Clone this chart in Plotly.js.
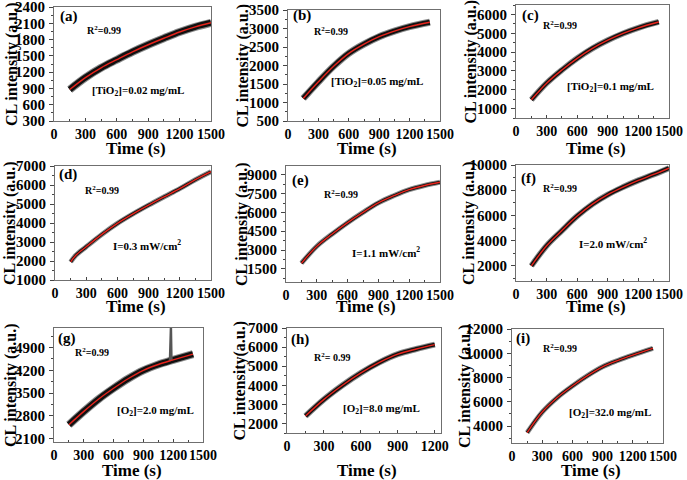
<!DOCTYPE html>
<html><head><meta charset="utf-8">
<script src="https://cdn.plot.ly/plotly-3.0.1.min.js"></script>
<style>html,body{margin:0;padding:0;background:#fff}#c{width:687px;height:480px}</style>
</head><body><div id="c"></div>
<script>
// ---- data ----
const panelLetters = ["(a)","(b)","(c)","(d)","(e)","(f)","(g)","(h)","(i)"];
const r2Labels = ["R<sup>2</sup>=0.99","R<sup>2</sup>=0.99","R<sup>2</sup>=0.99","R<sup>2</sup>=0.99","R<sup>2</sup>=0.99","R<sup>2</sup>=0.99","R<sup>2</sup>=0.99","R<sup>2</sup>= 0.99","R<sup>2</sup>=0.99"];
const conditionLabels = ["[TiO<sub>2</sub>]=0.02 mg/mL","[TiO<sub>2</sub>]=0.05 mg/mL","[TiO<sub>2</sub>]=0.1 mg/mL","I=0.3 mW/cm<sup>2</sup>","I=1.1 mW/cm<sup>2</sup>","I=2.0 mW/cm<sup>2</sup>","[O<sub>2</sub>]=2.0 mg/mL","[O<sub>2</sub>]=8.0 mg/mL","[O<sub>2</sub>]=32.0 mg/mL"];
const xTitle = "Time (s)";
const yTitles = ["CL intensity (a.u.)","CL intensity (a.u.)","CL intensity (a.u.)","CL intensity (a.u.)","CL intensity (a.u.)","CL intensity (a.u.)","CL intensity (a.u.)","CL intensity(a.u.)","CL intensity (a.u.)"];

const timeA = [150,300,450,600,750,900,1050,1200,1350,1500];
const clA   = [880,1100,1280,1430,1575,1705,1825,1940,2035,2110];
const timeB = [150,300,450,600,750,900,1050,1200,1400];
const clB   = [1110,1560,1980,2330,2580,2780,2930,3050,3170];
const timeC = [150,300,450,600,750,900,1050,1200,1400];
const clC   = [1470,2350,3050,3670,4200,4630,4990,5290,5600];
const timeD = [150,200,300,450,600,750,900,1050,1200,1350,1500];
const clD   = [1950,2300,2750,3400,3980,4480,4940,5380,5810,6280,6700];
const timeE = [150,300,450,600,750,900,1050,1200,1350,1500];
const clE   = [1950,3300,4280,5180,6000,6760,7330,7820,8150,8400];
const timeF = [150,300,450,600,750,900,1050,1200,1350,1500];
const clF   = [2000,3600,4800,5950,6900,7650,8250,8780,9250,9750];
const timeG = [150,300,450,600,750,900,1050,1200,1400];
const clG   = [2530,2940,3320,3650,3950,4200,4380,4520,4700];
const spikeTimeG = [1165,1172,1178,1185];
const spikeClG   = [4480,5800,5800,4500];
const timeH = [150,300,450,600,750,900,1050,1200];
const clH   = [2390,3260,4000,4650,5200,5630,5900,6130];
const timeI = [150,300,450,600,750,900,1050,1200,1400];
const clI   = [3450,5150,6350,7300,8150,8880,9400,9850,10400];

const xRanges = [[0,1500],[0,1500],[0,1500],[0,1500],[0,1500],[0,1500],[0,1500],[0,1250],[0,1500]];
const yRanges = [[300,2400],[500,3500],[500,6500],[1000,7000],[450,9700],[800,10000],[2000,5500],[1500,7000],[2600,12000]];
const yDticks = [300,500,1000,1000,1500,2000,700,1000,2000];

// ---- layout geometry (pixels) ----
const W = 687, H = 480;
const boxes = [ // [left, right, top, bottom]
  [54,211,7,121],[288,440,10,121],[516,669,5,118],
  [55,211,166,280],[286,440,166,282],[516,669,165,281],
  [54,203,328,442],[287,441,328,433],[512,663,329,443]
];
const letterPos = [[58,17],[291,16],[520,15],[57,174],[290,180],[519,178],[56,338],[289,339],[514,338]];
const r2Pos = [[85,30],[312,31],[541,25],[83,190],[322,194],[541,188],[73,352],[312,357],[541,348]];
const condPos = [[138,91],[377,82],[610,87],[147,245],[386,252],[613,243],[155,411],[381,409],[610,413]];
const yTitleX = [12,242,470,10,242,469,11,239,465];
const xTitleY = [148,306,470];
const bandWidths = [6,5,4,3,3,4,6,4,3];

const series = [[timeA,clA],[timeB,clB],[timeC,clC],[timeD,clD],[timeE,clE],[timeF,clF],[timeG,clG],[timeH,clH],[timeI,clI]];

const FONT = "Liberation Serif, Times New Roman, serif";
const traces = [];
const layout = {
  width: W, height: H, margin: {l:0,r:0,t:0,b:0},
  paper_bgcolor: "#fff", plot_bgcolor: "#fff", showlegend: false,
  font: {family: FONT, color: "#000", weight: 700},
  annotations: []
};

series.forEach((s, i) => {
  const n = i + 1;
  const xa = n === 1 ? "x" : "x" + n;
  const ya = n === 1 ? "y" : "y" + n;
  const b = boxes[i];
  traces.push({x: s[0], y: s[1], xaxis: xa, yaxis: ya, mode: "lines", line: {color: "#8a8a8a", width: bandWidths[i] + 2, shape: "spline"}, hoverinfo: "skip"});
  traces.push({x: s[0], y: s[1], xaxis: xa, yaxis: ya, mode: "lines", line: {color: "#111", width: bandWidths[i], shape: "spline"}, hoverinfo: "skip"});
  if (i === 6) {
    traces.push({x: spikeTimeG, y: spikeClG, xaxis: xa, yaxis: ya, mode: "lines", line: {color: "#555", width: 2}, hoverinfo: "skip"});
  }
  traces.push({x: s[0], y: s[1], xaxis: xa, yaxis: ya, mode: "lines", line: {color: "#e8241c", width: 1.4, shape: "spline"}});

  const common = {
    showline: true, mirror: true, linecolor: "#6f6f6f", linewidth: 1,
    tickwidth: 1, tickcolor: "#444",
    showgrid: false, zeroline: false, fixedrange: true,
    tickangle: 0, exponentformat: "none", separatethousands: false, tickformat: "d",
    ticklabeloverflow: "allow"
  };
  layout["xaxis" + (n === 1 ? "" : n)] = Object.assign({}, common, {
    domain: [b[0]/W, b[1]/W], anchor: ya, range: [xRanges[i][0] - 0.5, xRanges[i][1] + 0.5],
    tick0: 0, dtick: 300, ticks: "inside", ticklen: 3,
    tickfont: {family: FONT, size: 14, color: "#000", weight: 700},
    minor: {ticks: "inside", ticklen: 2, dtick: 150, tickcolor: "#444"}
  });
  layout["yaxis" + (n === 1 ? "" : n)] = Object.assign({}, common, {
    domain: [1 - b[3]/H, 1 - b[2]/H], anchor: xa, range: [yRanges[i][0], yRanges[i][1] + 1],
    tick0: 0, dtick: yDticks[i], ticks: "outside", ticklen: 4, ticklabelstandoff: 1,
    tickfont: {family: FONT, size: 15, color: "#000", weight: 700},
    minor: {ticks: "outside", ticklen: 2, dtick: yDticks[i]/2, tickcolor: "#444"}
  });

  const ann = (px, py, text, size, xanchor, extra) => Object.assign({
    xref: "paper", yref: "paper", x: px/W, y: 1 - py/H, text: text,
    showarrow: false, xanchor: xanchor, yanchor: "middle",
    font: {family: FONT, size: size, color: "#000", weight: 700}
  }, extra || {});
  layout.annotations.push(ann(letterPos[i][0], letterPos[i][1], panelLetters[i], 15, "left"));
  layout.annotations.push(ann(r2Pos[i][0], r2Pos[i][1], r2Labels[i], 10, "left"));
  layout.annotations.push(ann(condPos[i][0], condPos[i][1], conditionLabels[i], 11, "center"));
  layout.annotations.push(ann((b[0]+b[1])/2 + 3, xTitleY[Math.floor(i/3)], xTitle, 17, "center"));
  layout.annotations.push(ann(yTitleX[i], (b[2]+b[3])/2, yTitles[i], 16, "center", {textangle: -90}));
});

Plotly.newPlot("c", traces, layout, {staticPlot: true, displayModeBar: false});
</script></body></html>
